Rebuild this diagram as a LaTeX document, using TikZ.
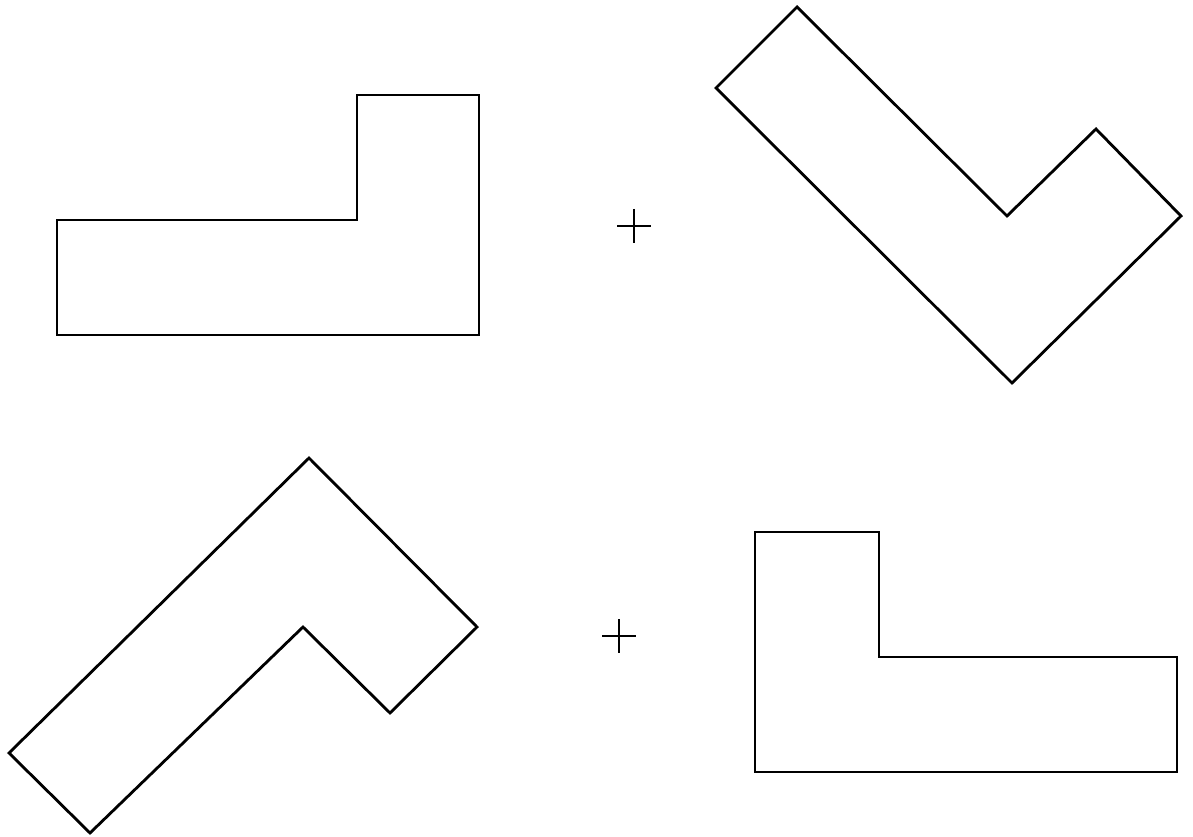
\documentclass[tikz,border=0pt]{standalone}
\tikzset{outline/.style={draw=black, line width=1.6pt, line join=miter}}
\newcommand{\plusmark}[3]{%
  \draw[line width=1.3pt] (#1-#3,#2) -- (#1+#3,#2);
  \draw[line width=1.3pt] (#1,#2-#3) -- (#1,#2+#3);
}
\begin{document}
\begin{tikzpicture}[x=0.02cm, y=-0.02cm]
    \useasboundingbox (0,0) rectangle (1193,837);
    % Top left shape
    \draw[outline] (57,220) -- (357,220) -- (357,95) -- (479,95) -- (479,335) -- (57,335) -- cycle;
    % Top right shape (turned)
    \draw[outline] (716,88) -- (797,7) -- (1007,216) -- (1096,129) -- (1181,216) -- (1012,383) -- cycle;
    % Bottom left shape (turned)
    \draw[outline] (309,458) -- (477,627) -- (390,713) -- (303,627) -- (90,833) -- (9,753) -- cycle;
    % Bottom right shape
    \draw[outline] (755,532) -- (879,532) -- (879,657) -- (1177,657) -- (1177,772) -- (755,772) -- cycle;
    % Plus signs
    \plusmark{634}{226}{17}
    \plusmark{619}{636}{17}
\end{tikzpicture}
\end{document}
